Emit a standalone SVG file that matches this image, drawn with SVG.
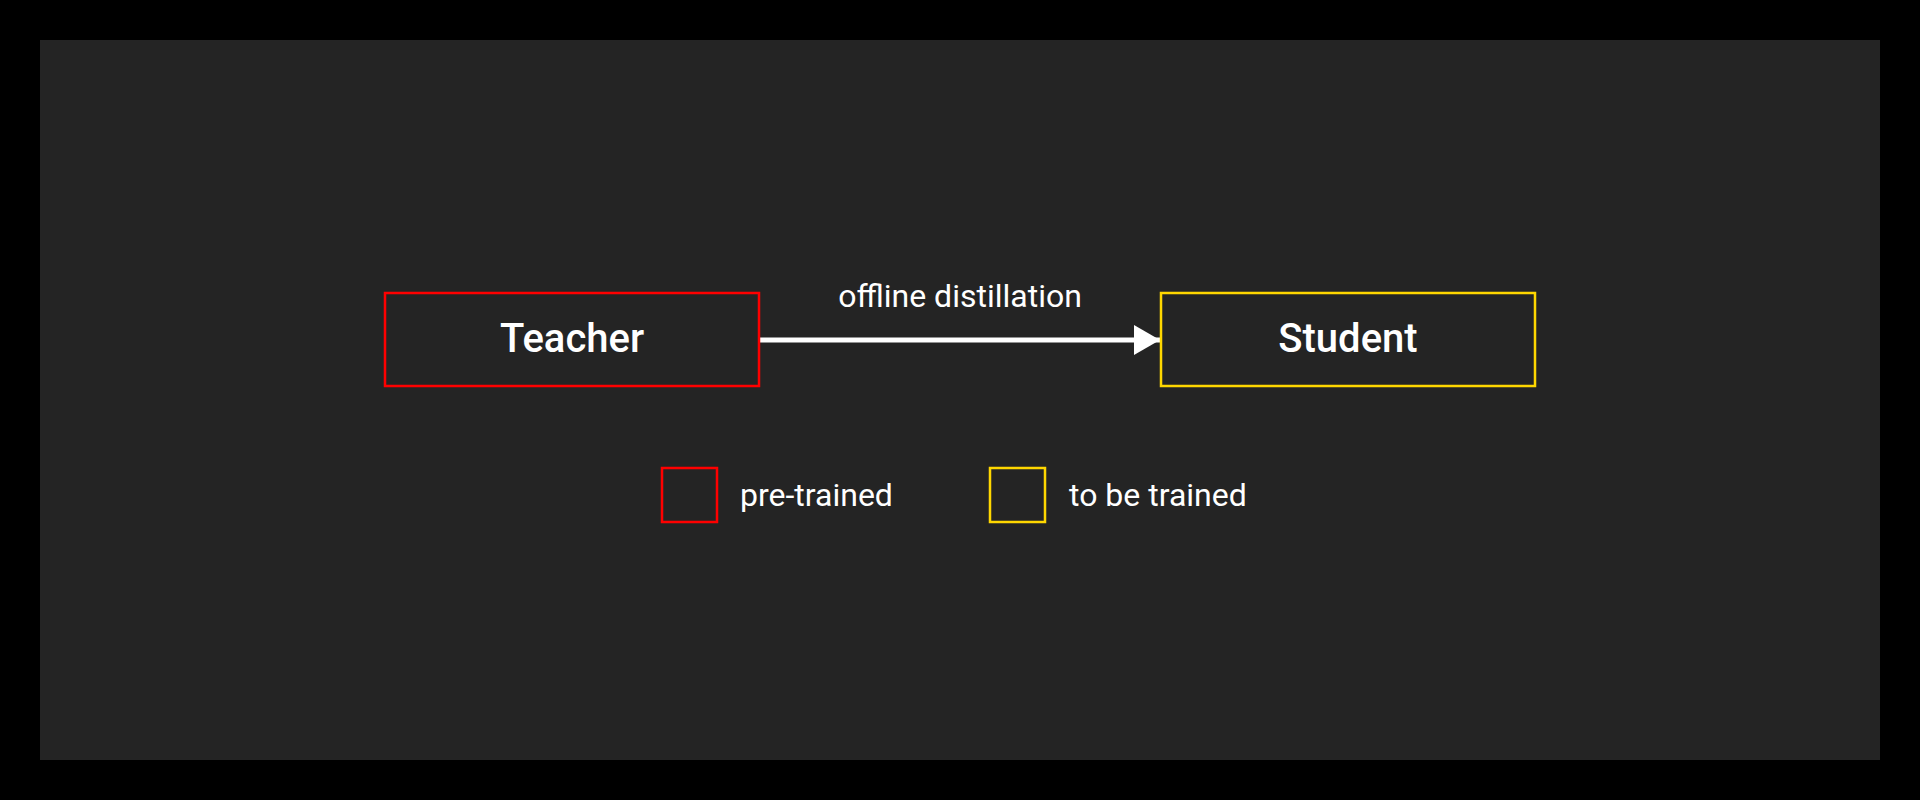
<svg xmlns="http://www.w3.org/2000/svg" width="1920" height="800" viewBox="0 0 1920 800">
<defs>
<style>
.node rect{fill:#242424;stroke-width:2.5}
.red{stroke:#ff0000}
.yellow{stroke:#ffd700}
.t{font-family:Roboto,"Liberation Sans",sans-serif;fill:#ffffff}
.title{font-size:40px;font-weight:500;text-anchor:middle}
.lbl{font-size:32px}
</style>
<marker id="arrow" markerWidth="6" markerHeight="6" refX="5.2" refY="3" orient="auto" markerUnits="strokeWidth">
<path d="M0,0 L5.2,3 L0,6 Z" fill="#ffffff"/>
</marker>
</defs>
<rect x="0" y="0" width="1920" height="800" fill="#000000"/>
<rect x="40" y="40" width="1840" height="720" fill="#242424"/>
<g id="connectors">
<line x1="760" y1="340" x2="1160" y2="340" stroke="#ffffff" stroke-width="5" marker-end="url(#arrow)"/>
<text class="t lbl" x="960" y="307" text-anchor="middle">offline distillation</text>
</g>
<g id="teacher" class="node">
<rect class="red" x="385" y="293" width="374" height="93"/>
<text class="t title" x="572" y="352">Teacher</text>
</g>
<g id="student" class="node">
<rect class="yellow" x="1161" y="293" width="374" height="93"/>
<text class="t title" x="1348" y="352">Student</text>
</g>
<g id="legend-pretrained" class="node">
<rect class="red" x="662" y="468" width="55" height="54"/>
<text class="t lbl" x="740" y="506">pre-trained</text>
</g>
<g id="legend-tobetrained" class="node">
<rect class="yellow" x="990" y="468" width="55" height="54"/>
<text class="t lbl" x="1069" y="506">to be trained</text>
</g>
</svg>
